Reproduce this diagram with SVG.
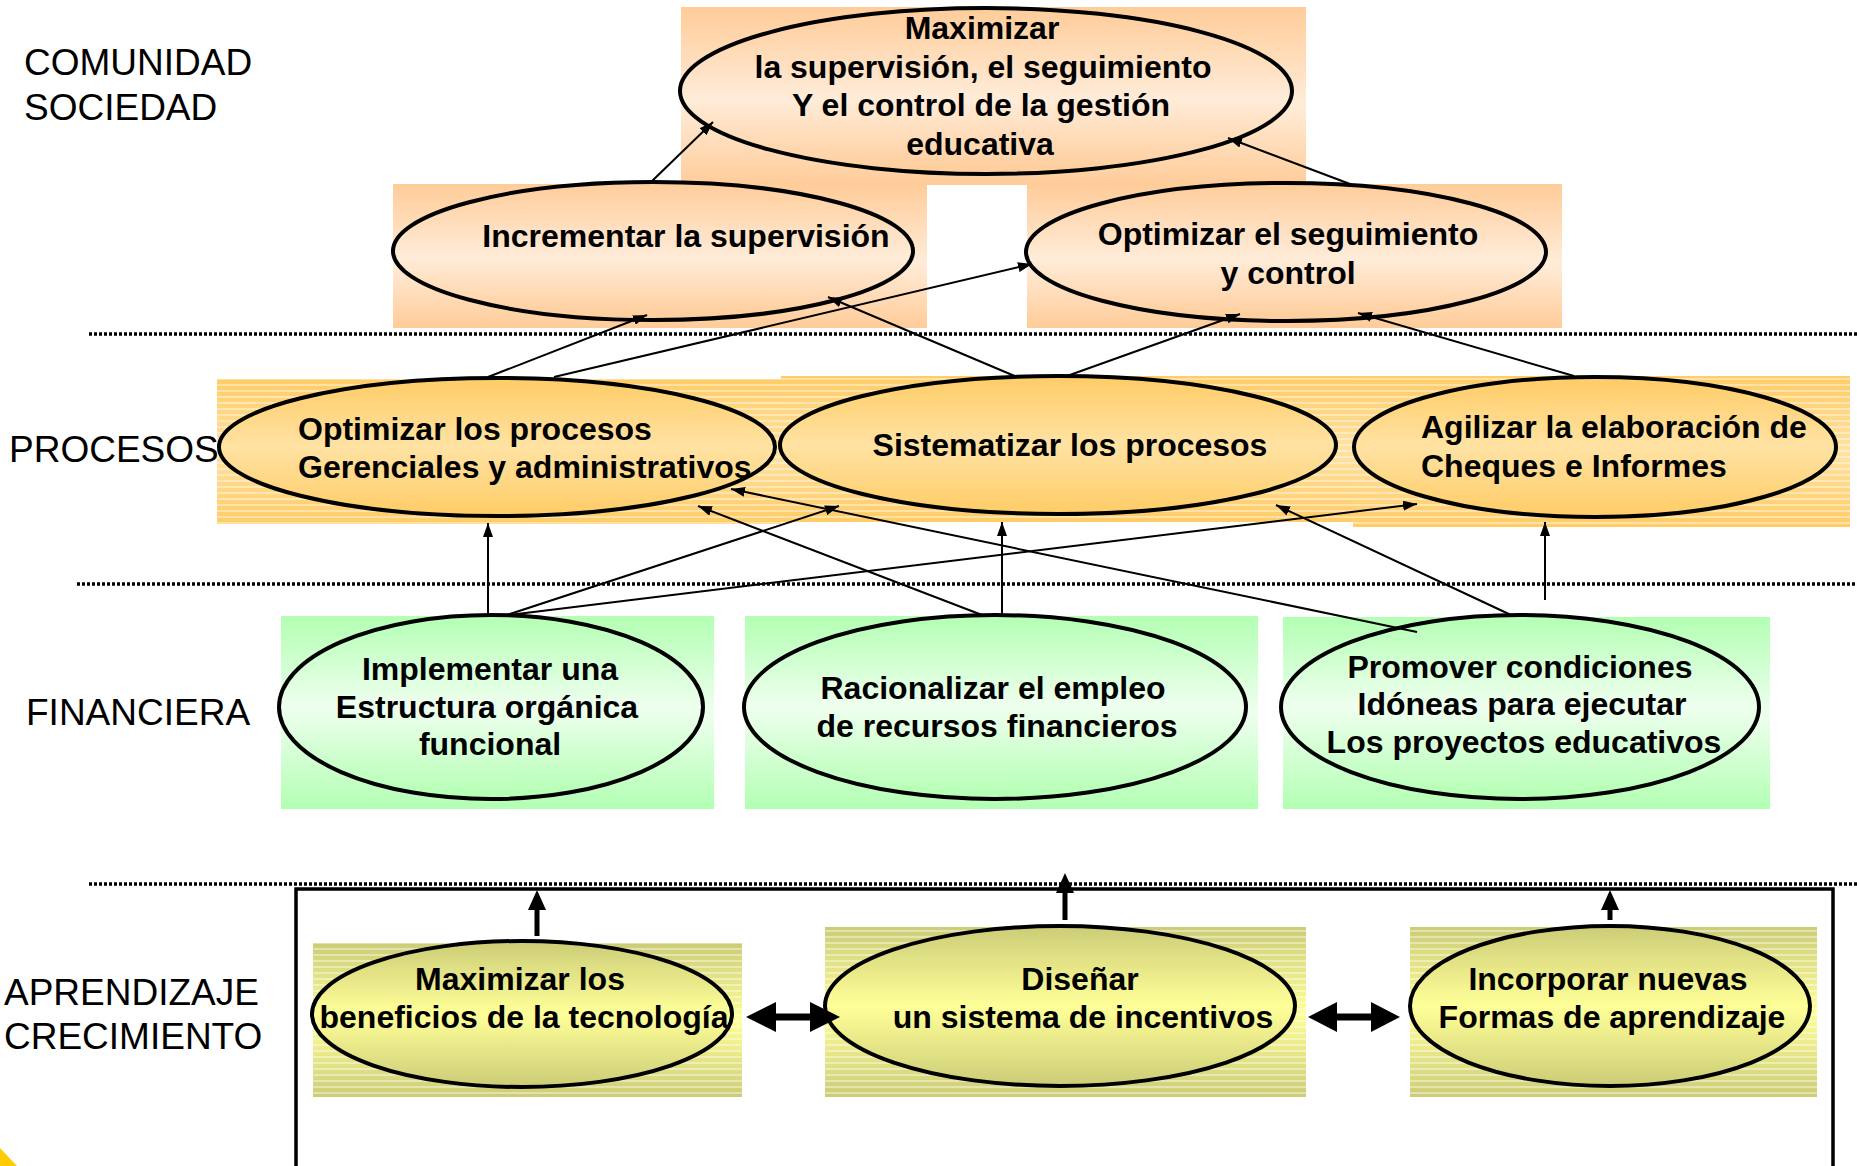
<svg xmlns="http://www.w3.org/2000/svg" width="1857" height="1166" viewBox="0 0 1857 1166">
<defs>
<linearGradient id="gPeach" x1="0" y1="0" x2="0" y2="1"><stop offset="0" stop-color="#FFCC99"/><stop offset="0.55" stop-color="#FFECD9"/><stop offset="1" stop-color="#FFCC99"/></linearGradient>
<linearGradient id="gOrange" x1="0" y1="0" x2="0" y2="1"><stop offset="0" stop-color="#FFCC66"/><stop offset="0.5" stop-color="#FFE2A3"/><stop offset="1" stop-color="#FFCC66"/></linearGradient>
<linearGradient id="gGreen" x1="0" y1="0" x2="0" y2="1"><stop offset="0" stop-color="#B3FFB3"/><stop offset="0.5" stop-color="#EFFFEF"/><stop offset="1" stop-color="#B3FFB3"/></linearGradient>
<linearGradient id="gYellow" x1="0" y1="0" x2="0" y2="1"><stop offset="0" stop-color="#CCCC77"/><stop offset="0.5" stop-color="#FFFF99"/><stop offset="1" stop-color="#CCCC77"/></linearGradient>
<pattern id="stripes" width="10" height="6" patternUnits="userSpaceOnUse"><rect width="10" height="2" fill="#FFFFFF" opacity="0.4"/></pattern>
<marker id="arr" markerUnits="userSpaceOnUse" markerWidth="14" markerHeight="10" refX="14" refY="5" orient="auto"><path d="M0,0 L14,5 L0,10 Z" fill="#000"/></marker>
</defs>
<style>
.lbl{font-family:"Liberation Sans",Arial,sans-serif;font-size:37px;fill:#000}
.t{font-family:"Liberation Sans",Arial,sans-serif;font-size:32px;font-weight:bold;fill:#000}
.c{text-anchor:middle}
.el{stroke:#000;stroke-width:4}
.dot{stroke:#000;stroke-width:3.5;stroke-dasharray:3 2;fill:none}
.ln{stroke:#000;stroke-width:2;fill:none;marker-end:url(#arr)}
.ln0{stroke:#000;stroke-width:2;fill:none}
.stripe{fill:url(#stripes)}
</style>
<rect width="1857" height="1166" fill="#FFFFFF"/>

<g id="labels">
<text class="lbl" x="24" y="75">COMUNIDAD</text>
<text class="lbl" x="24" y="120">SOCIEDAD</text>
<text class="lbl" x="9" y="462">PROCESOS</text>
<text class="lbl" x="26" y="725">FINANCIERA</text>
<text class="lbl" x="4" y="1005">APRENDIZAJE</text>
<text class="lbl" x="4" y="1049">CRECIMIENTO</text>
</g>

<g id="dividers">
<line class="dot" x1="89" y1="334" x2="1857" y2="334"/>
<line class="dot" x1="77" y1="584" x2="1857" y2="584"/>
<line class="dot" x1="89" y1="884" x2="1857" y2="884"/>
<polyline points="296,1166 296,889 1833,889 1833,1166" fill="none" stroke="#000" stroke-width="3.5"/>
<polygon points="0,1148 17,1166 0,1166" fill="#FFCC00"/>
</g>

<g id="n1">
<rect x="681" y="7" width="625" height="178" fill="url(#gPeach)"/>
<ellipse class="el" cx="986" cy="91" rx="306" ry="83" fill="url(#gPeach)"/>
<text class="t c" x="982" y="39">Maximizar</text>
<text class="t c" x="983" y="78">la supervisión, el seguimiento</text>
<text class="t c" x="981" y="116">Y el control de la gestión</text>
<text class="t c" x="980" y="155">educativa</text>
</g>

<g id="n2">
<rect x="393" y="184" width="534" height="144" fill="url(#gPeach)"/>
<ellipse class="el" cx="653" cy="251" rx="260" ry="69" fill="url(#gPeach)"/>
<text class="t c" x="686" y="247">Incrementar la supervisión</text>
</g>

<g id="n3">
<rect x="1027" y="184" width="535" height="144" fill="url(#gPeach)"/>
<ellipse class="el" cx="1286" cy="252" rx="260" ry="69" fill="url(#gPeach)"/>
<text class="t c" x="1288" y="245">Optimizar el seguimiento</text>
<text class="t c" x="1288" y="284">y control</text>
</g>

<g id="n4">
<rect x="217" y="379" width="564" height="145" fill="url(#gOrange)"/>
<rect class="stripe" x="217" y="379" width="564" height="145"/>
<ellipse class="el" cx="497" cy="447" rx="278" ry="69" fill="url(#gOrange)"/>
<text class="t" x="298" y="440">Optimizar los procesos</text>
<text class="t" x="298" y="478">Gerenciales y administrativos</text>
</g>

<g id="n5">
<rect x="781" y="376" width="573" height="146" fill="url(#gOrange)"/>
<rect class="stripe" x="781" y="376" width="573" height="146"/>
<ellipse class="el" cx="1058" cy="445" rx="278" ry="69" fill="url(#gOrange)"/>
<text class="t c" x="1070" y="456">Sistematizar los procesos</text>
</g>

<g id="n6">
<rect x="1353" y="376" width="497" height="151" fill="url(#gOrange)"/>
<rect class="stripe" x="1353" y="376" width="497" height="151"/>
<ellipse class="el" cx="1595" cy="447" rx="241" ry="70" fill="url(#gOrange)"/>
<text class="t" x="1421" y="438">Agilizar la elaboración de</text>
<text class="t" x="1421" y="477">Cheques e Informes</text>
</g>

<g id="n7">
<rect x="281" y="616" width="433" height="193" fill="url(#gGreen)"/>
<ellipse class="el" cx="491" cy="707" rx="212" ry="92" fill="url(#gGreen)"/>
<text class="t c" x="490" y="680">Implementar una</text>
<text class="t c" x="487" y="718">Estructura orgánica</text>
<text class="t c" x="490" y="755">funcional</text>
</g>

<g id="n8">
<rect x="745" y="616" width="513" height="193" fill="url(#gGreen)"/>
<ellipse class="el" cx="995" cy="707" rx="251" ry="92" fill="url(#gGreen)"/>
<text class="t c" x="993" y="699">Racionalizar el empleo</text>
<text class="t c" x="997" y="737">de recursos financieros</text>
</g>

<g id="n9">
<rect x="1283" y="617" width="487" height="192" fill="url(#gGreen)"/>
<ellipse class="el" cx="1520" cy="707" rx="239" ry="92" fill="url(#gGreen)"/>
<text class="t c" x="1520" y="678">Promover condiciones</text>
<text class="t c" x="1522" y="715">Idóneas para ejecutar</text>
<text class="t c" x="1524" y="753">Los proyectos educativos</text>
</g>

<g id="n10">
<rect x="313" y="943" width="429" height="154" fill="url(#gYellow)"/>
<rect class="stripe" x="313" y="943" width="429" height="154"/>
<ellipse class="el" cx="522" cy="1014" rx="210" ry="73" fill="url(#gYellow)"/>
<text class="t c" x="520" y="990">Maximizar los</text>
<text class="t c" x="524" y="1028">beneficios de la tecnología</text>
</g>

<g id="n11">
<rect x="825" y="927" width="481" height="170" fill="url(#gYellow)"/>
<rect class="stripe" x="825" y="927" width="481" height="170"/>
<ellipse class="el" cx="1060" cy="1006" rx="235" ry="80" fill="url(#gYellow)"/>
<text class="t c" x="1080" y="990">Diseñar</text>
<text class="t c" x="1083" y="1028">un sistema de incentivos</text>
</g>

<g id="n12">
<rect x="1410" y="927" width="407" height="170" fill="url(#gYellow)"/>
<rect class="stripe" x="1410" y="927" width="407" height="170"/>
<ellipse class="el" cx="1610" cy="1006" rx="200" ry="80" fill="url(#gYellow)"/>
<text class="t c" x="1608" y="990">Incorporar nuevas</text>
<text class="t c" x="1612" y="1028">Formas de aprendizaje</text>
</g>

<g id="connectors">
<line class="ln" x1="651" y1="182" x2="713" y2="122"/>
<line class="ln" x1="1350" y1="184" x2="1228" y2="138"/>
<line class="ln" x1="488" y1="377" x2="647" y2="315"/>
<line class="ln" x1="554" y1="377" x2="1032" y2="264"/>
<line class="ln" x1="1017" y1="377" x2="828" y2="297"/>
<line class="ln" x1="1067" y1="376" x2="1240" y2="314"/>
<line class="ln" x1="1574" y1="376" x2="1358" y2="313"/>
<line class="ln" x1="488" y1="615" x2="488" y2="523"/>
<line class="ln" x1="507" y1="615" x2="839" y2="506"/>
<line class="ln" x1="509" y1="615" x2="1417" y2="504"/>
<line class="ln" x1="982" y1="615" x2="698" y2="506"/>
<line class="ln" x1="1002" y1="615" x2="1002" y2="522"/>
<line class="ln" x1="1417" y1="632" x2="731" y2="489"/>
<line class="ln" x1="1511" y1="615" x2="1276" y2="505"/>
<line class="ln" x1="1545" y1="600" x2="1545" y2="522"/>
<line x1="537" y1="936" x2="537" y2="906" stroke="#000" stroke-width="5"/>
<polygon points="537,890 528,910 546,910" fill="#000"/>
<line x1="1065" y1="920" x2="1065" y2="890" stroke="#000" stroke-width="5"/>
<polygon points="1065,873 1056,893 1074,893" fill="#000"/>
<line x1="1610" y1="920" x2="1610" y2="906" stroke="#000" stroke-width="5"/>
<polygon points="1610,890 1601,910 1619,910" fill="#000"/>
<line x1="774" y1="1017" x2="812" y2="1017" stroke="#000" stroke-width="7"/>
<polygon points="746,1017 776,1002 776,1032" fill="#000"/>
<polygon points="840,1017 810,1002 810,1032" fill="#000"/>
<line x1="1335" y1="1017" x2="1373" y2="1017" stroke="#000" stroke-width="7"/>
<polygon points="1308,1017 1337,1002 1337,1032" fill="#000"/>
<polygon points="1400,1017 1371,1002 1371,1032" fill="#000"/>
</g>
</svg>
